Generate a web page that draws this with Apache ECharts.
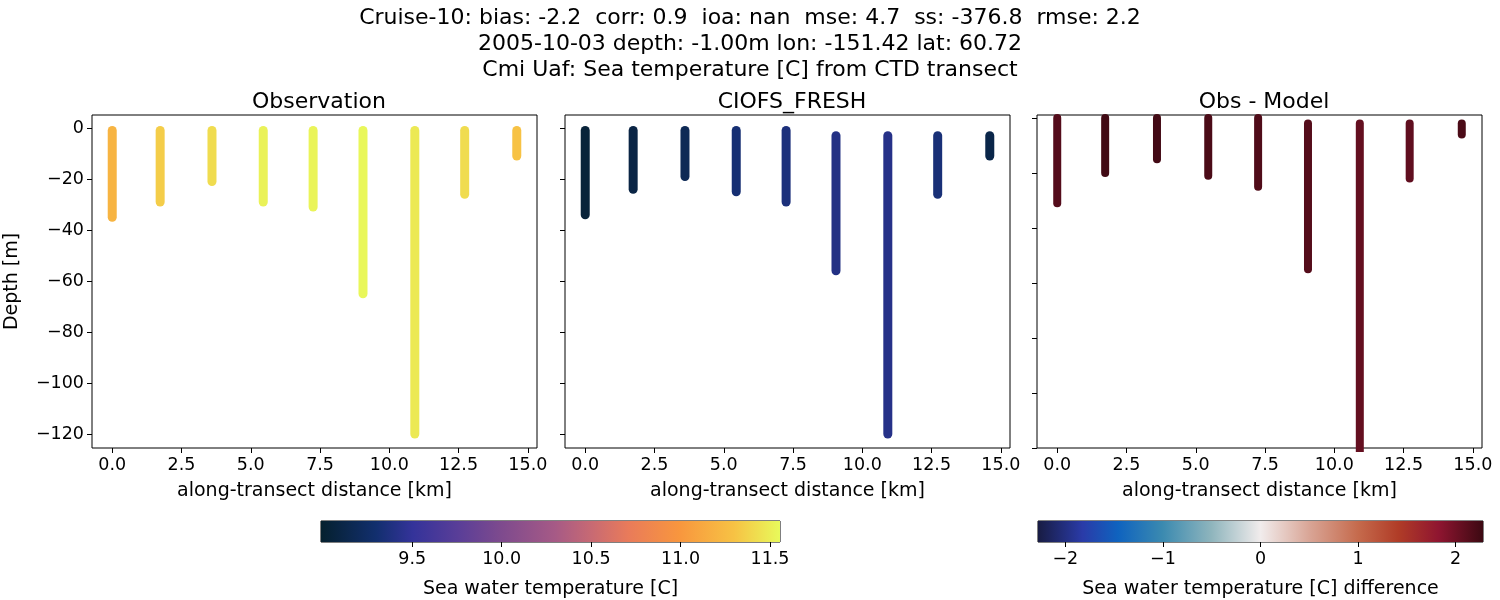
<!DOCTYPE html>
<html>
<head>
<meta charset="utf-8">
<script src="https://cdn.jsdelivr.net/npm/echarts@6/dist/echarts.min.js"></script>
<style>body{margin:0;background:#fff}#main{width:1500px;height:600px}</style>
</head>
<body>
<div id="main"></div>
<script>
// 站点距离 (km)
var distance = [0, 1.73, 3.6, 5.45, 7.25, 9.05, 10.92, 12.72, 14.6];
// 观测: 顶深, 底深, 温度
var obsTop = [-1, -1, -1, -1, -1, -1, -1, -1, -1];
var obsBottom = [-35, -29, -21, -29, -31, -65, -120, -26, -11];
var obsTemp = [11.2, 11.35, 11.42, 11.52, 11.53, 11.54, 11.48, 11.42, 11.3];
// 模型
var modTop = [-1, -1, -1, -1, -1, -3, -3, -3, -3];
var modBottom = [-34, -24, -19, -25, -29, -56, -120, -26, -11];
var modTemp = [9.05, 9.1, 9.18, 9.32, 9.36, 9.4, 9.42, 9.34, 9.12];
// 差值
var difTop = [0, 0, 0, 0, 0, -2, -2, -2, -2];
var difBottom = [-31, -20, -15, -21, -25, -55, -125, -22, -6];
var difVal = [2.15, 2.25, 2.24, 2.2, 2.17, 2.14, 2.06, 2.08, 2.2];

var xTicks = [0, 2.5, 5, 7.5, 10, 12.5, 15];
var yTicks = [0, -20, -40, -60, -80, -100, -120];
var cb1Ticks = [9.5, 10, 10.5, 11, 11.5];
var cb2Ticks = [-2, -1, 0, 1, 2];

var cb1Min = 8.99, cb1Max = 11.556, cb2Min = -2.28, cb2Max = 2.28;

var thermal = [
    [0, '#05202e'], [0.12, '#122f6e'], [0.2, '#34339a'], [0.3, '#5a3e98'], [0.39, '#7d4a8e'],
    [0.51, '#a65a86'], [0.59, '#c86a73'], [0.67, '#e97b5a'], [0.78, '#f8963e'], [0.9, '#f7c244'], [1, '#e8fa5b']
];
var balance = [
    [0, '#181c43'], [0.1, '#2a3ba8'], [0.18, '#0f63bf'], [0.28, '#3b8ab0'], [0.39, '#8fb5bd'],
    [0.5, '#f1ecec'], [0.61, '#d9a596'], [0.72, '#c56a4c'], [0.81, '#b03c27'], [0.9, '#8f1530'], [1, '#3c0912']
];

function hex(c) { return [parseInt(c.substr(1, 2), 16), parseInt(c.substr(3, 2), 16), parseInt(c.substr(5, 2), 16)]; }
function cmap(stops, t) {
    t = Math.max(0, Math.min(1, t));
    for (var i = 1; i < stops.length; i++) {
        if (t <= stops[i][0]) {
            var a = hex(stops[i - 1][1]), b = hex(stops[i][1]);
            var f = (t - stops[i - 1][0]) / (stops[i][0] - stops[i - 1][0]);
            return 'rgb(' + [0, 1, 2].map(function (k) { return Math.round(a[k] + (b[k] - a[k]) * f); }).join(',') + ')';
        }
    }
    return stops[stops.length - 1][1];
}

var font = 'DejaVu Sans';
var tickSize = 17.5, nameSize = 19;
var grids = [
    {left: 92, width: 445, top: 115, height: 333},
    {left: 565, width: 445, top: 115, height: 333},
    {left: 1037, width: 445, top: 115, height: 333},
    {left: 321, width: 459, top: 521, height: 24},
    {left: 1038, width: 445, top: 521, height: 24}
];
grids.forEach(function (g) { g.show = true; g.borderColor = '#000'; g.borderWidth = 1; g.backgroundColor = 'transparent'; });

var lineOff = {show: false, onZero: false};
function panelX(idx) {
    return {
        type: 'value', gridIndex: idx, min: -0.73, max: 15.33,
        name: 'along-transect distance [km]', nameLocation: 'middle', nameGap: 34,
        nameTextStyle: {fontFamily: font, fontSize: nameSize, color: '#000'},
        axisLine: lineOff, splitLine: {show: false},
        axisTick: {show: true, customValues: xTicks, length: 5, lineStyle: {color: '#000'}},
        axisLabel: {show: true, customValues: xTicks, fontFamily: font, fontSize: tickSize, color: '#000',
            formatter: function (v) { return v.toFixed(1); }}
    };
}
function panelY(idx, min, max, labels) {
    return {
        type: 'value', gridIndex: idx, min: min, max: max,
        name: labels ? 'Depth [m]' : '', nameLocation: 'middle', nameGap: 70,
        nameTextStyle: {fontFamily: font, fontSize: nameSize, color: '#000'},
        axisLine: lineOff, splitLine: {show: false},
        axisTick: {show: true, customValues: yTicks, length: 5, lineStyle: {color: '#000'}},
        axisLabel: {show: labels, customValues: yTicks, fontFamily: font, fontSize: tickSize, color: '#000',
            formatter: function (v) { return v === 0 ? '0' : '\u2212' + Math.abs(v); }}
    };
}
function cbX(idx, min, max, ticks, name, fmt) {
    return {
        type: 'value', gridIndex: idx, min: min, max: max,
        name: name, nameLocation: 'middle', nameGap: 38,
        nameTextStyle: {fontFamily: font, fontSize: nameSize, color: '#000'},
        axisLine: lineOff, splitLine: {show: false},
        axisTick: {show: true, customValues: ticks, length: 5, lineStyle: {color: '#000'}},
        axisLabel: {show: true, customValues: ticks, fontFamily: font, fontSize: tickSize, color: '#000', formatter: fmt}
    };
}
function cbY(idx) {
    return {type: 'value', gridIndex: idx, min: 0, max: 1, show: false};
}

var series = [];
function addProfiles(gi, tops, bottoms, vals, stops, vmin, vmax, width) {
    for (var i = 0; i < distance.length; i++) {
        series.push({
            type: 'line', xAxisIndex: gi, yAxisIndex: gi, symbol: 'none', silent: true,
            data: [[distance[i], tops[i]], [distance[i], bottoms[i]]],
            lineStyle: {width: width, cap: 'round', color: cmap(stops, (vals[i] - vmin) / (vmax - vmin))}
        });
    }
}
addProfiles(0, obsTop, obsBottom, obsTemp, thermal, cb1Min, cb1Max, 9);
addProfiles(1, modTop, modBottom, modTemp, thermal, cb1Min, cb1Max, 9);
addProfiles(2, difTop, difBottom, difVal, balance, cb2Min, cb2Max, 8);

function colorbar(gi, min, max, stops) {
    series.push({
        type: 'custom', xAxisIndex: gi, yAxisIndex: gi, silent: true, data: [[min, 0]],
        renderItem: function (params, api) {
            var p0 = api.coord([min, 1]), p1 = api.coord([max, 0]);
            return {
                type: 'rect', shape: {x: p0[0], y: p0[1], width: p1[0] - p0[0], height: p1[1] - p0[1]},
                style: {fill: new echarts.graphic.LinearGradient(0, 0, 1, 0,
                    stops.map(function (s) { return {offset: s[0], color: s[1]}; }))}
            };
        }
    });
}
colorbar(3, cb1Min, cb1Max, thermal);
colorbar(4, cb2Min, cb2Max, balance);

var titleStyle = {fontFamily: font, fontSize: 22, fontWeight: 'normal', color: '#000'};
var myChart = echarts.init(document.getElementById('main'));
myChart.setOption({
    animation: false,
    backgroundColor: '#fff',
    title: [
        {text: 'Cruise-10: bias: -2.2  corr: 0.9  ioa: nan  mse: 4.7  ss: -376.8  rmse: 2.2', left: 'center', top: 2, textStyle: titleStyle},
        {text: '2005-10-03 depth: -1.00m lon: -151.42 lat: 60.72', left: 'center', top: 28, textStyle: titleStyle},
        {text: 'Cmi Uaf: Sea temperature [C] from CTD transect', left: 'center', top: 54, textStyle: titleStyle},
        {text: 'Observation', left: 314, textAlign: 'center', top: 86, textStyle: titleStyle},
        {text: 'CIOFS_FRESH', left: 787, textAlign: 'center', top: 86, textStyle: titleStyle},
        {text: 'Obs - Model', left: 1259, textAlign: 'center', top: 86, textStyle: titleStyle}
    ],
    grid: grids,
    xAxis: [panelX(0), panelX(1), panelX(2),
        cbX(3, cb1Min, cb1Max, cb1Ticks, 'Sea water temperature [C]', function (v) { return v.toFixed(1); }),
        cbX(4, cb2Min, cb2Max, cb2Ticks, 'Sea water temperature [C] difference', function (v) { return v < 0 ? '\u2212' + Math.abs(v) : String(v); })],
    yAxis: [panelY(0, -125.5, 5.1, true), panelY(1, -125.5, 5.1, false), panelY(2, -120, 1.07, false), cbY(3), cbY(4)],
    series: series
});
</script>
</body>
</html>
